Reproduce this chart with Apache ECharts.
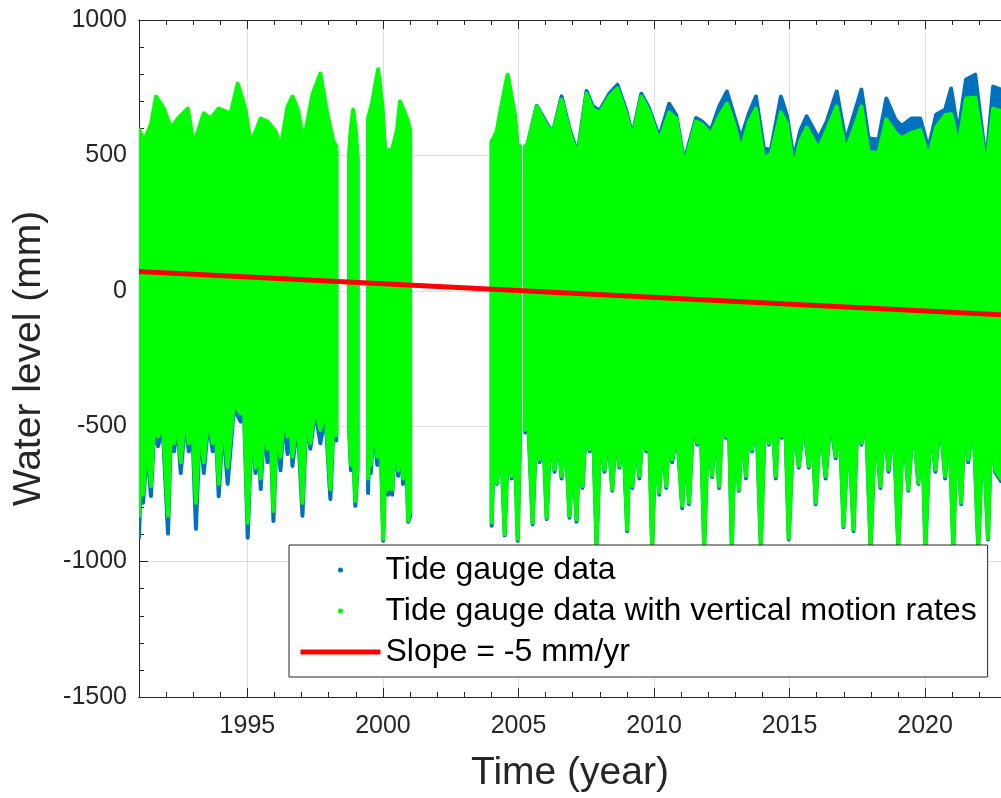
<!DOCTYPE html>
<html>
<head>
<meta charset="utf-8">
<script src="https://cdn.jsdelivr.net/npm/echarts@6/dist/echarts.min.js"></script>
<style>html,body{margin:0;padding:0;background:#fff}#chart{width:1001px;height:798px}</style>
</head>
<body>
<div id="chart"></div>
<script>
// ---- Data ----
// Continuous recording periods (decimal years, centres of the outermost dots)
const segments = [[1991.00, 1998.28], [1998.75, 1999.06], [1999.45, 2001.00], [2004.01, 2005.05], [2005.25, 2022.80]];

// Upper envelope of the dense hourly scatter
const topYears = [
  1991.00,1991.18,1991.44,1991.63,1991.92,1992.18,1992.43,1992.80,1993.02,1993.39,1993.65,1993.94,1994.38,1994.64,1994.93,1995.12,1995.49,1995.74,1996.04,1996.22,1996.48,1996.66,1996.85,1997.07,1997.40,1997.69,1997.95,1998.17,1998.28,
  1998.75,1998.81,1998.90,1998.99,1999.06,
  1999.45,1999.60,1999.82,1999.97,2000.08,2000.34,2000.52,2000.63,2000.89,2001.00,
  2004.01,2004.07,2004.20,2004.38,2004.60,2004.86,2004.98,2005.05,
  2005.25,2005.34,2005.67,2005.96,2006.26,2006.59,2006.88,2007.18,2007.51,2007.73,2007.99,2008.35,2008.65,2008.98,2009.20,2009.53,2009.82,2010.19,2010.56,2010.82,2011.11,2011.55,2011.77,2012.10,2012.40,2012.69,2012.95,2013.21,2013.50,2013.76,2014.05,2014.31,2014.68,2014.90,2015.15,2015.40,2015.63,2016.07,2016.37,2016.74,2017.07,2017.43,2017.65,2017.91,2018.28,2018.57,2018.90,2019.13,2019.49,2019.82,2020.12,2020.41,2020.74,2020.96,2021.22,2021.51,2021.85,2022.07,2022.25,2022.51,2022.80
];
const greenTop = [
  596,553,613,717,673,600,636,673,541,655,636,673,655,765,669,541,636,625,588,526,680,717,673,552,724,802,651,552,533,
  496,593,669,593,496,
  636,693,818,693,515,523,593,699,636,593,
  552,563,589,688,798,651,515,533,
  533,541,680,625,577,706,589,496,728,673,655,717,747,651,563,717,662,552,658,636,463,625,614,577,643,691,618,515,623,673,489,503,658,618,453,553,603,523,593,680,515,613,680,513,508,633,583,563,583,593,493,603,648,653,533,710,713,578,453,673,663
];
const blueTop = [
  573,523,583,693,643,573,608,648,513,633,608,648,628,738,643,513,613,598,563,503,658,693,648,528,698,783,628,533,513,
  483,578,653,578,483,
  613,673,793,673,498,503,573,683,618,578,
  548,558,583,683,793,648,513,533,
  533,543,683,633,583,718,598,508,738,683,665,728,761,663,575,728,673,568,691,648,478,638,625,593,680,736,648,563,655,717,526,520,717,648,489,593,644,563,625,736,552,669,743,563,558,710,633,608,636,636,526,651,669,747,583,780,798,618,473,754,743
];

// Lower envelope of the dense hourly scatter (deep spikes and the solid base between them)
const botYears = [
  1991.00,1991.08,1991.15,1991.30,1991.44,1991.57,1991.70,1991.88,1992.07,1992.18,1992.29,1992.42,1992.54,1992.70,1992.84,1992.97,1993.10,1993.25,1993.39,1993.56,1993.72,1993.83,1993.94,1994.10,1994.27,1994.50,1994.75,1994.88,1995.01,1995.15,1995.30,1995.40,1995.49,1995.62,1995.74,1995.85,1995.96,1996.09,1996.22,1996.35,1996.48,1996.57,1996.66,1996.85,1997.03,1997.18,1997.32,1997.50,1997.69,1997.88,1998.06,1998.20,1998.28,
  1998.75,1998.82,1998.90,1998.98,1999.06,
  1999.45,1999.50,1999.55,1999.66,1999.79,1999.90,2000.01,2000.10,2000.19,2000.26,2000.34,2000.45,2000.56,2000.65,2000.74,2000.84,2000.93,2001.00,
  2004.01,2004.09,2004.20,2004.35,2004.49,2004.62,2004.75,2004.86,2004.97,2005.05,
  2005.25,2005.37,2005.52,2005.65,2005.78,2005.91,2006.04,2006.18,2006.33,2006.46,2006.59,2006.73,2006.88,2007.01,2007.14,2007.25,2007.36,2007.49,2007.62,2007.75,2007.88,2008.02,2008.17,2008.31,2008.46,2008.59,2008.72,2008.86,2009.01,2009.10,2009.20,2009.33,2009.46,2009.58,2009.71,2009.82,2009.93,2010.06,2010.19,2010.32,2010.45,2010.56,2010.67,2010.85,
  2011.04,2011.16,2011.29,2011.44,2011.59,2011.72,2011.85,2012.00,2012.14,2012.27,2012.40,2012.52,2012.65,2012.76,2012.87,2013.00,2013.13,2013.26,2013.39,2013.50,2013.61,2013.78,2013.94,2014.09,2014.24,2014.37,2014.49,2014.60,2014.71,2014.84,2014.97,2015.15,2015.34,2015.52,2015.71,2015.83,2015.96,2016.14,2016.33,2016.51,2016.70,2016.85,
  2016.99,2017.18,2017.36,2017.50,2017.65,2017.82,2017.99,2018.17,2018.35,2018.50,2018.65,2018.83,2019.01,2019.20,2019.38,2019.56,2019.75,2019.88,2020.01,2020.20,2020.38,2020.56,2020.74,2020.89,2021.04,2021.18,2021.33,2021.46,2021.59,2021.78,2021.96,2022.14,2022.32,2022.45,2022.58,2022.80
];
const greenBot = [
  -831,-593,-753,-553,-721,-473,-538,-493,-831,-493,-563,-473,-633,-463,-563,-493,-783,-473,-633,-463,-563,-493,-713,-473,-653,-413,-453,-443,-857,-493,-653,-513,-693,-473,-583,-493,-813,-473,-613,-443,-538,-443,-613,-463,-783,-443,-563,-423,-513,-443,-733,-423,-533,
  -493,-643,-553,-776,-643,
  -693,-513,-643,-473,-613,-473,-916,-553,-733,-553,-733,-513,-663,-513,-693,-513,-848,-813,
  -856,-553,-709,-533,-899,-533,-684,-533,-917,-553,
  -513,-493,-856,-513,-623,-513,-838,-513,-660,-533,-684,-513,-831,-593,-844,-553,-721,-493,-586,-493,-943,-513,-660,-523,-733,-513,-647,-513,-881,-553,-721,-533,-684,-513,-586,-513,-943,-533,-745,-533,-721,-513,-623,-513,
  -794,-553,-782,-483,-562,-463,-943,-473,-683,-473,-721,-453,-537,-463,-943,-473,-733,-473,-684,-463,-586,-463,-943,-453,-562,-463,-684,-453,-537,-463,-913,-473,-647,-473,-647,-473,-782,-473,-684,-463,-611,-473,
  -868,-493,-881,-463,-562,-463,-943,-473,-721,-473,-660,-463,-943,-473,-733,-473,-709,-473,-943,-473,-660,-463,-684,-473,-943,-483,-782,-473,-623,-463,-943,-493,-913,-473,-660,-693
];
const blueBot = [
  -912,-633,-783,-583,-758,-493,-574,-513,-897,-513,-593,-493,-673,-483,-593,-513,-879,-493,-673,-483,-593,-513,-758,-493,-713,-433,-483,-463,-912,-513,-673,-533,-732,-493,-633,-513,-850,-493,-663,-463,-603,-463,-647,-483,-831,-463,-583,-443,-563,-463,-769,-443,-553,
  -513,-663,-573,-794,-663,
  -747,-533,-673,-493,-643,-493,-923,-573,-753,-573,-753,-533,-683,-533,-713,-533,-853,-833,
  -868,-563,-713,-543,-903,-543,-693,-543,-923,-563,
  -523,-503,-863,-523,-633,-523,-843,-523,-668,-543,-693,-523,-838,-603,-853,-563,-728,-503,-593,-503,-948,-523,-668,-533,-738,-523,-653,-523,-888,-563,-728,-543,-693,-523,-593,-523,-948,-543,-753,-543,-728,-523,-633,-523,
  -803,-563,-788,-493,-568,-473,-948,-483,-688,-483,-728,-463,-543,-473,-948,-483,-738,-483,-693,-473,-593,-473,-948,-463,-568,-473,-693,-463,-543,-473,-918,-483,-653,-483,-653,-483,-788,-483,-693,-473,-618,-483,
  -873,-503,-888,-473,-568,-473,-948,-483,-728,-483,-668,-473,-948,-483,-738,-483,-713,-483,-948,-483,-668,-473,-693,-483,-948,-493,-788,-483,-633,-473,-948,-503,-918,-483,-668,-703
];

// Linear trend (slope = -5 mm/yr)
const trendYears = [1991.0, 2022.8];
const trendValues = [71, -88];

// Axis ticks
const xMajorTicks = [1995, 2000, 2005, 2010, 2015, 2020];
const xMin = 1991, xMax = 2022.8, xMinorStep = 1;
const yMin = -1500, yMax = 1000, yStep = 500;

const seriesNames = ['Tide gauge data', 'Tide gauge data with vertical motion rates', 'Slope = -5 mm/yr'];

// ---- Chart ----
const chart = echarts.init(document.getElementById('chart'), null, { renderer: 'canvas' });
const FONT = 'Liberation Sans, Arial, Helvetica, sans-serif';
const AX = '#262626';
const GRID = '#dedede';
const BLUE = '#0072BD', GREEN = '#00FF00', RED = '#FF0000';
const DOT = 4; // diameter of the scatter dots, drawn as a round outline on the envelope

function inSeg(v, s) { return v >= s[0] - 1e-6 && v <= s[1] + 1e-6; }
function envelope(topY, botY, color) {
  return function (params, api) {
    const seg = segments[params.dataIndex];
    const pts = [];
    for (let i = 0; i < topYears.length; i++) {
      if (inSeg(topYears[i], seg)) pts.push(api.coord([topYears[i], topY[i]]));
    }
    for (let i = botYears.length - 1; i >= 0; i--) {
      if (inSeg(botYears[i], seg)) pts.push(api.coord([botYears[i], botY[i]]));
    }
    return {
      type: 'polygon',
      shape: { points: pts },
      style: { fill: color, stroke: color, lineWidth: DOT, lineJoin: 'round' }
    };
  };
}
const segData = segments.map(s => [s[0], 0]);
const plainNum = v => String(v);

const baseX = { type: 'value', min: xMin, max: xMax, gridIndex: 0 };
const axLine = { show: true, onZero: false, lineStyle: { color: AX, width: 1 } };

const option = {
  animation: false,
  backgroundColor: '#ffffff',
  grid: { left: 139, right: -2, top: 20, bottom: 98, containLabel: false },
  xAxis: [
    Object.assign({}, baseX, {
      position: 'bottom', interval: xMinorStep,
      axisLine: axLine,
      axisTick: { show: true, inside: true, length: 5, lineStyle: { color: AX } },
      axisLabel: { show: false }, splitLine: { show: false }
    }),
    Object.assign({}, baseX, {
      position: 'bottom',
      name: 'Time (year)', nameLocation: 'middle', nameGap: 57,
      nameTextStyle: { fontFamily: FONT, fontSize: 39, color: AX },
      axisLine: axLine,
      axisTick: { show: true, inside: true, length: 9, customValues: xMajorTicks, lineStyle: { color: AX } },
      axisLabel: { show: true, customValues: xMajorTicks, formatter: plainNum, margin: 17, fontFamily: FONT, fontSize: 25, color: AX },
      splitLine: { show: true, lineStyle: { color: GRID, width: 1 } }
    }),
    Object.assign({}, baseX, {
      position: 'top',
      axisLine: axLine,
      axisTick: { show: true, inside: true, length: 9, customValues: xMajorTicks, lineStyle: { color: AX } },
      axisLabel: { show: false }, splitLine: { show: false }
    }),
    Object.assign({}, baseX, {
      position: 'top', interval: xMinorStep,
      axisLine: axLine,
      axisTick: { show: true, inside: true, length: 5, lineStyle: { color: AX } },
      axisLabel: { show: false }, splitLine: { show: false }
    })
  ],
  yAxis: [{
    type: 'value', min: yMin, max: yMax, interval: yStep, position: 'left',
    name: 'Water level (mm)', nameLocation: 'middle', nameGap: 90, nameRotate: 90,
    nameTextStyle: { fontFamily: FONT, fontSize: 39, color: AX },
    axisLine: axLine,
    axisTick: { show: true, inside: true, length: 9, lineStyle: { color: AX } },
    minorTick: { show: true, splitNumber: 5, length: 5, lineStyle: { color: AX } },
    axisLabel: { margin: 12, formatter: plainNum, fontFamily: FONT, fontSize: 25, color: AX },
    splitLine: { show: true, lineStyle: { color: GRID, width: 1 } }
  }],
  legend: {
    orient: 'vertical', left: 289, top: 545,
    padding: [9, 11, 9, 9], itemGap: 9,
    itemWidth: 80, itemHeight: 5,
    backgroundColor: '#ffffff', borderColor: AX, borderWidth: 1,
    textStyle: { fontFamily: FONT, fontSize: 32, color: '#000' },
    data: [
      { name: seriesNames[0], icon: 'circle', itemStyle: { color: BLUE } },
      { name: seriesNames[1], icon: 'circle', itemStyle: { color: GREEN } },
      { name: seriesNames[2], lineStyle: { width: 5, color: RED } }
    ],
    selectedMode: false
  },
  series: [
    {
      name: seriesNames[0], type: 'custom', xAxisIndex: 0, yAxisIndex: 0,
      clip: true, z: 2, itemStyle: { color: BLUE },
      renderItem: envelope(blueTop, blueBot, BLUE),
      encode: { x: 0, y: 1 }, data: segData
    },
    {
      name: seriesNames[1], type: 'custom', xAxisIndex: 0, yAxisIndex: 0,
      clip: true, z: 3, itemStyle: { color: GREEN },
      renderItem: envelope(greenTop, greenBot, GREEN),
      encode: { x: 0, y: 1 }, data: segData
    },
    {
      name: seriesNames[2], type: 'line', xAxisIndex: 0, yAxisIndex: 0,
      z: 5, symbol: 'none', clip: true,
      lineStyle: { color: RED, width: 5 }, itemStyle: { color: RED },
      data: trendYears.map((t, i) => [t, trendValues[i]])
    }
  ]
};
chart.setOption(option);
</script>
</body>
</html>
